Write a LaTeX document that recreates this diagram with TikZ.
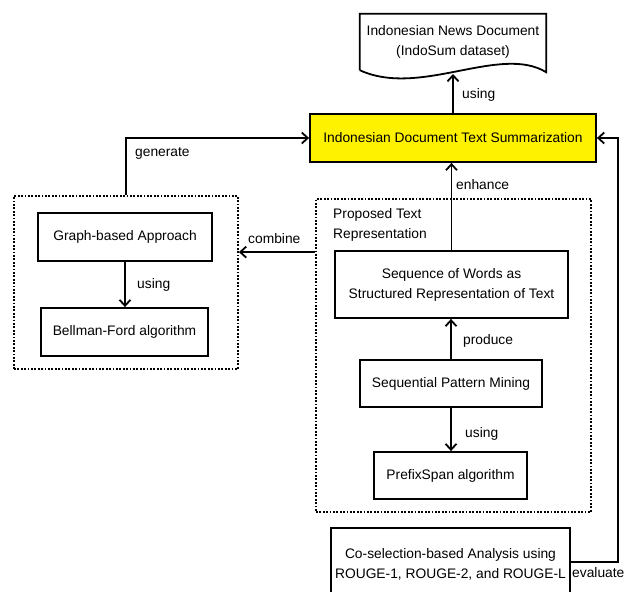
\documentclass[tikz,border=0pt]{standalone}
\usepackage{fontspec}
\setmainfont{Liberation Sans}
\usetikzlibrary{arrows.meta}

\begin{document}
\begin{tikzpicture}[x=1pt,y=-1pt,
		font=\fontsize{13.8}{20}\selectfont,
		box/.style={draw, line width=1.8pt, align=center, inner sep=0pt},
		grpbox/.style={draw, line width=1.8pt, dash pattern=on 1.8pt off 1.6pt, inner sep=0pt},
		link/.style={line width=1.8pt, -{Straight Barb[length=6pt,width=11pt]}},
		lbl/.style={inner sep=0pt, anchor=west}]
		\useasboundingbox (0,0) rectangle (625,592);

		% groups
		\node[grpbox, minimum width=224pt, minimum height=173pt] (leftgrp) at (126,282.5) {};
		\node[grpbox, minimum width=275pt, minimum height=313pt] (rightgrp) at (453.5,355.5) {};

		% document
		\node[align=center, inner sep=0pt, minimum width=186pt, minimum height=56pt] (doc) at (453,42) {Indonesian News Document\\(IndoSum dataset)};
		\draw[line width=1.8pt] (doc.south west) -- (doc.north west) -- (doc.north east) -- ([yshift=-2pt]doc.south east)
			.. controls (500,44) and (420,98) .. (doc.south west);
		\coordinate (docb) at (453,74);

		% boxes
		\node[box, fill=yellow, minimum width=286pt, minimum height=48pt] (summ) at (453,138) {Indonesian Document Text Summarization};
		\node[box, minimum width=233pt, minimum height=67pt] (seq) at (451.5,284.5) {Sequence of Words as\\Structured Representation of Text};
		\node[box, minimum width=182pt, minimum height=47pt] (spm) at (451,383.5) {Sequential Pattern Mining};
		\node[box, minimum width=153pt, minimum height=47pt] (pfx) at (450.5,475.5) {PrefixSpan algorithm};
		\node[box, minimum width=174pt, minimum height=48pt] (graph) at (125,237) {Graph-based Approach};
		\node[box, minimum width=167pt, minimum height=48pt] (bell) at (124.5,332) {Bellman-Ford algorithm};
		\node[box, minimum width=239pt, minimum height=72pt] (cosel) at (450.5,564) {Co-selection-based Analysis using\\ROUGE-1, ROUGE-2, and ROUGE-L};

		% connectors
		\draw[link] (summ.north) -- (docb);
		\draw[link] (seq.north) -- (seq.north |- summ.south);
		\draw[link] (spm.north) -- (spm.north |- seq.south);
		\draw[link] (spm.south) -- (spm.south |- pfx.north);
		\draw[link] (graph.south) -- (graph.south |- bell.north);
		\draw[link] ([yshift=-54pt]rightgrp.north west) -- ([yshift=-54pt]rightgrp.north west -| leftgrp.east);
		\draw[link] (leftgrp.north) |- (summ.west);
		\draw[link] ([yshift=2pt]cosel.east) -- ++(47,0) |- (summ.east);

		% labels
		\node[lbl] (usingdoc) at (462,95) {using};
		\node[lbl] (enh) at (456,185) {enhance};
		\node[lbl, align=left] (prop) at (333,225) {Proposed Text\\Representation};
		\node[lbl] (prod) at (463,341) {produce};
		\node[lbl] (usingpfx) at (465,434) {using};
		\node[lbl] (usingbell) at (137,285) {using};
		\node[lbl] (gen) at (135,153) {generate};
		\node[lbl] (comb) at (248,239) {combine};
		\node[lbl] (eval) at (572,573) {evaluate};
	\end{tikzpicture}
\end{document}
